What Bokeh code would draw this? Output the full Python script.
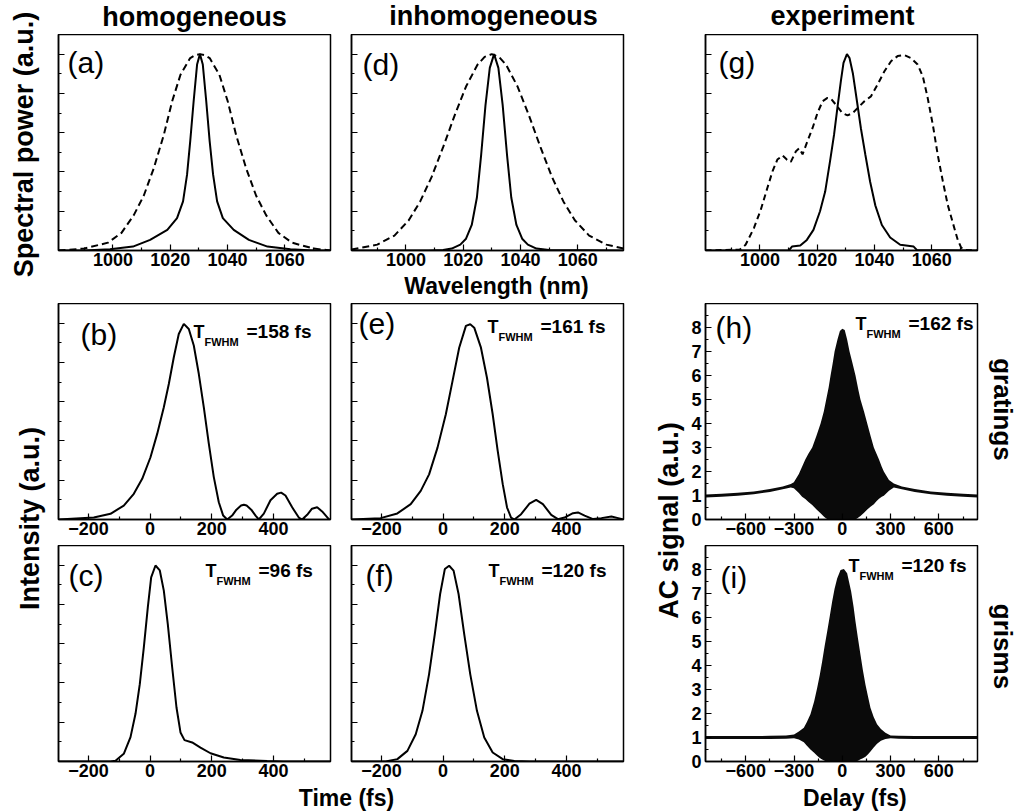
import math
from bokeh.plotting import figure
from bokeh.models import Range1d, FixedTicker, Label, CustomJSTickFormatter
from bokeh.layouts import row, column
from bokeh.embed import file_html
from bokeh.resources import INLINE

# ---------------- data ----------------
# (a) homogeneous spectra
wl_a_solid = [981, 990, 999, 1007, 1013, 1019, 1022.4, 1024.5, 1025.9, 1027.0, 1028.2, 1029.4, 1030.4,
              1031.4, 1032.6, 1033.8, 1035.0, 1036.4, 1038.4, 1042.2, 1047.5, 1054, 1062, 1070, 1076]
pw_a_solid = [0.0, 0.0, 0.006, 0.02, 0.054, 0.105, 0.165, 0.25, 0.386, 0.556, 0.76, 0.947, 1.0,
              0.947, 0.76, 0.556, 0.386, 0.25, 0.165, 0.105, 0.054, 0.02, 0.006, 0.0, 0.0]
wl_a_dash = [981, 990, 998.3, 1003, 1007.3, 1010.8, 1014.3, 1017.8, 1020.7, 1023.6, 1027.0, 1028.7,
             1030.4, 1032.1, 1033.8, 1037.2, 1040.1, 1043.0, 1046.5, 1050.0, 1053.5, 1057.8, 1062.5,
             1070, 1076]
pw_a_dash = [0.0, 0.01, 0.04, 0.09, 0.18, 0.28, 0.42, 0.59, 0.76, 0.895, 0.98, 0.995,
             1.0, 0.995, 0.98, 0.895, 0.76, 0.59, 0.42, 0.28, 0.18, 0.09, 0.04,
             0.01, 0.0]

# (d) inhomogeneous spectra
wl_d_solid = [981, 1008, 1013, 1016, 1019, 1021, 1023, 1024.8, 1026.3, 1027.8, 1029.3, 1030.8,
              1032.3, 1033.8, 1035.3, 1036.8, 1038.6, 1040.6, 1042.6, 1045.6, 1050, 1076]
pw_d_solid = [0.0, 0.0, 0.003, 0.01, 0.03, 0.06, 0.13, 0.27, 0.49, 0.74, 0.93, 1.0,
              0.93, 0.74, 0.49, 0.27, 0.13, 0.06, 0.03, 0.01, 0.002, 0.0]
wl_d_dash = [981, 990, 996, 1001, 1005, 1009, 1013, 1017, 1021, 1025, 1027.5, 1030,
             1032.5, 1035, 1039, 1043, 1047, 1051, 1055, 1059, 1064, 1070, 1076]
pw_d_dash = [0.005, 0.03, 0.076, 0.154, 0.25, 0.375, 0.526, 0.687, 0.835, 0.946, 0.986, 1.0,
             0.986, 0.946, 0.835, 0.687, 0.526, 0.375, 0.25, 0.154, 0.076, 0.03, 0.01]

# (g) experimental spectra
wl_g_solid = [981, 1010.1, 1011.2, 1014.1, 1016.4, 1018.7, 1021.0, 1022.8, 1024.5, 1025.9,
              1027.1, 1028.3, 1029.2, 1030.4, 1031.3, 1032.5, 1033.9, 1035.3, 1036.8, 1038.5,
              1040.3, 1042.6, 1045.5, 1049.0, 1053.7, 1054.8, 1076]
pw_g_solid = [0.0, 0.0, 0.02, 0.025, 0.054, 0.105, 0.2, 0.30, 0.455, 0.59,
              0.73, 0.865, 0.955, 1.0, 0.98, 0.9, 0.76, 0.62, 0.49, 0.35,
              0.23, 0.13, 0.066, 0.029, 0.02, 0.003, 0.0]
wl_g_dash = [981, 993, 995.0, 997.9, 1000.3, 1002.6, 1004.4, 1006.1, 1007.9, 1009.4,
             1010.8, 1012.6, 1013.7, 1014.9, 1016.6, 1018.4, 1020.1, 1021.9, 1023.6, 1025.0,
             1026.5, 1028.8, 1030.6, 1032.4, 1034.1, 1036.5, 1038.8, 1041.1, 1043.5, 1045.8,
             1048.1, 1050.5, 1052.8, 1055.1, 1056.9, 1058.6, 1060.4, 1062.1, 1063.9, 1065.6,
             1067.4, 1069.1, 1070.3, 1071.4, 1076]
pw_g_dash = [0.0, 0.005, 0.029, 0.114, 0.207, 0.318, 0.403, 0.463, 0.484, 0.463,
             0.451, 0.506, 0.52, 0.49, 0.556, 0.624, 0.70, 0.76, 0.777, 0.77,
             0.743, 0.70, 0.688, 0.70, 0.725, 0.76, 0.785, 0.845, 0.913, 0.964,
             0.99, 0.995, 0.98, 0.947, 0.887, 0.777, 0.64, 0.488, 0.352, 0.233,
             0.14, 0.054, 0.015, 0.003, 0.0]

# (b) homogeneous, gratings
t_b = [-297, -182.5, -128.4, -85.3, -52.8, -25.6, 1.3, 23, 44.5, 60.7,
       76.9, 93, 109.3, 125.5, 141.7, 157.9, 174.1, 190.4, 206.6, 222.8,
       237, 250, 266, 280, 295, 304, 313, 328, 342, 352.6,
       368.8, 390.4, 412, 425, 439, 460.7, 482.2, 493, 509.4, 525,
       541.7, 557.9, 579.5, 585]
i_b = [0.0, 0.01, 0.029, 0.071, 0.131, 0.207, 0.317, 0.436, 0.572, 0.69,
       0.826, 0.945, 0.996, 0.97, 0.886, 0.742, 0.572, 0.386, 0.216, 0.088,
       0.02, 0.0, 0.02, 0.05, 0.071, 0.075, 0.071, 0.05, 0.02, 0.0,
       0.03, 0.098, 0.131, 0.137, 0.122, 0.062, 0.01, 0.0, 0.024, 0.055,
       0.062, 0.041, 0.002, 0.0]
# (c) homogeneous, grisms
t_c = [-297, -128.4, -112.2, -85.3, -63.5, -47.3, -33.4, -20.4, -7.4, 3.5,
       17.5, 31.5, 44.5, 57.4, 71.6, 85.6, 98.6, 111.6, 136.5, 163.4,
       195.9, 239, 293, 379.7, 433, 585]
i_c = [0.0, 0.0, 0.004, 0.039, 0.124, 0.243, 0.394, 0.58, 0.785, 0.938,
       0.998, 0.973, 0.87, 0.70, 0.48, 0.275, 0.148, 0.109, 0.097, 0.071,
       0.042, 0.02, 0.008, 0.002, 0.0, 0.0]
# (e) inhomogeneous, gratings
t_e = [-297, -202.6, -148.3, -105, -72.5, -45.4, -18.1, 8.9, 30.7, 52.2,
       74, 88, 101, 122.8, 142.3, 160.8, 177.1, 193.4, 207.4, 220.4,
       231.2, 253, 280, 301.8, 323.6, 350.6, 372.4, 393.8, 421.2, 437.4,
       458.9, 486.3, 513.3, 545.8, 567.6, 585]
i_e = [0.0, 0.007, 0.031, 0.078, 0.146, 0.23, 0.366, 0.536, 0.706, 0.875,
       0.986, 0.994, 0.977, 0.875, 0.722, 0.536, 0.349, 0.18, 0.061, 0.01,
       0.0, 0.027, 0.081, 0.1, 0.078, 0.024, 0.002, 0.01, 0.032, 0.036,
       0.02, 0.002, 0.007, 0.015, 0.007, 0.0]
# (f) inhomogeneous, grisms
t_f = [-297, -186.4, -148.3, -115.7, -88.7, -66.9, -45.4, -26.9, -9.6, 5.6,
       19.6, 34, 50.2, 68.5, 88, 109.8, 133.5, 160.8, 193.4, 231.2, 280, 585]
i_f = [0.0, 0.0, 0.012, 0.054, 0.139, 0.258, 0.445, 0.649, 0.853, 0.98,
       0.997, 0.972, 0.853, 0.649, 0.445, 0.258, 0.122, 0.046, 0.012, 0.002, 0.0, 0.0]

# (h) measured autocorrelation, gratings: fringe envelopes
delay_h = [-850, -750, -650, -550, -450, -370, -320, -301, -270, -250,
           -230, -210, -187, -160, -135, -115, -100, -85, -73, -60,
           -48, -30, -15, 0, 15, 30, 45, 60, 82, 100,
           113, 135, 155, 175, 196, 212, 228, 245, 258, 290,
           320, 370, 450, 550, 650, 750, 840]
upper_h = [1.04, 1.07, 1.11, 1.17, 1.27, 1.38, 1.48, 1.55, 1.9, 2.2,
           2.5, 2.75, 3.0, 3.5, 4.0, 4.5, 5.0, 5.5, 6.0, 6.5,
           7.0, 7.5, 7.85, 7.95, 7.9, 7.5, 7.0, 6.6, 6.0, 5.4,
           5.0, 4.5, 4.0, 3.5, 3.0, 2.75, 2.5, 2.2, 2.0, 1.65,
           1.5, 1.38, 1.27, 1.17, 1.11, 1.07, 1.04]
lower_h = [0.92, 0.95, 0.99, 1.05, 1.15, 1.26, 1.33, 1.3, 1.1, 0.95,
           0.85, 0.73, 0.6, 0.42, 0.26, 0.12, 0.04, 0.0, 0.0, 0.0,
           0.0, 0.0, 0.0, 0.0, 0.0, 0.0, 0.0, 0.0, 0.0, 0.08,
           0.15, 0.28, 0.42, 0.53, 0.64, 0.76, 0.86, 0.95, 0.99, 1.2,
           1.33, 1.26, 1.15, 1.05, 0.99, 0.95, 0.92]
# (i) measured autocorrelation, grisms: fringe envelopes
delay_i = [-850, -750, -650, -550, -450, -350, -300, -270, -239, -220,
           -198, -175, -156, -140, -125, -110, -94, -78, -63, -48,
           -32, -11, 10, 30, 55, 70, 82, 97, 113, 128,
           144, 160, 175, 195, 216, 240, 268, 300, 350, 450,
           550, 650, 750, 840]
upper_i = [1.06, 1.06, 1.06, 1.06, 1.07, 1.08, 1.12, 1.25, 1.41, 1.65,
           1.97, 2.5, 3.07, 3.6, 4.18, 4.8, 5.42, 6.05, 6.67, 7.2,
           7.63, 7.98, 8.02, 7.84, 7.08, 6.45, 5.83, 5.15, 4.45, 3.8,
           3.2, 2.7, 2.24, 1.85, 1.55, 1.35, 1.2, 1.08, 1.07, 1.06,
           1.06, 1.06, 1.06, 1.06]
lower_i = [0.94, 0.94, 0.94, 0.94, 0.94, 0.95, 0.97, 0.92, 0.8, 0.66,
           0.5, 0.36, 0.24, 0.15, 0.08, 0.03, 0.0, 0.0, 0.0, 0.0,
           0.0, 0.0, 0.0, 0.0, 0.0, 0.0, 0.0, 0.03, 0.09, 0.14,
           0.2, 0.3, 0.42, 0.58, 0.74, 0.86, 0.94, 0.97, 0.95, 0.94,
           0.94, 0.94, 0.94, 0.94]

# ticks
wl_ticks = [1000, 1020, 1040, 1060]
wl_minor = [990, 1010, 1030, 1050, 1070]
t_ticks = [-200, 0, 200, 400]
t_minor = [-100, 100, 300, 500]
d_ticks = [-600, -300, 0, 300, 600]
d_minor = [-750, -450, -150, 150, 450, 750]
n_ticks = [0.2, 0.4, 0.6, 0.8, 1.0]
n_minor = [0.1, 0.3, 0.5, 0.7, 0.9]
ac_ticks = [0, 1, 2, 3, 4, 5, 6, 7, 8]
ac_minor = [0.5, 1.5, 2.5, 3.5, 4.5, 5.5, 6.5, 7.5, 8.5]

fwhm_vals = {"b": "=158 fs", "c": "=96 fs", "e": "=161 fs", "f": "=120 fs", "h": "=162 fs", "i": "=120 fs"}

# ---------------- layout geometry ----------------
FONT = "Liberation Sans"
FW, FH = 272, 216
WL_R = (981, 1076)
T_R = (-297, 585)
D_R = (-850, 840)
N_R = (0, 1.1)
AC_R = (0, 9)
SHIFT = 0.35  # label anchor correction (fraction of font size) so that y is the baseline


def make_panel(fl, ft, bl, bt, br, bb, xr, yr, xt, xm, yt, ym, ylab):
    p = figure(frame_width=FW, frame_height=FH, output_backend="svg", toolbar_location=None,
               x_range=Range1d(*xr), y_range=Range1d(*yr),
               min_border_left=bl, min_border_right=br,
               min_border_top=bt, min_border_bottom=bb,
               background_fill_color="white", border_fill_color="white",
               outline_line_color="black", outline_line_width=1.5)
    p.xgrid.visible = False
    p.ygrid.visible = False
    p.xaxis.ticker = FixedTicker(ticks=xt, minor_ticks=xm)
    p.yaxis.ticker = FixedTicker(ticks=yt, minor_ticks=ym)
    for ax in list(p.xaxis) + list(p.yaxis):
        ax.axis_line_width = 1.5
        ax.axis_line_color = "black"
        ax.major_tick_in = 6
        ax.major_tick_out = 0
        ax.minor_tick_in = 3
        ax.minor_tick_out = 0
        ax.major_tick_line_width = 1.2
        ax.minor_tick_line_width = 1.2
        ax.major_tick_line_color = "black"
        ax.minor_tick_line_color = "black"
        ax.major_label_text_font = FONT
        ax.major_label_text_font_style = "bold"
        ax.major_label_text_font_size = "18px"
        ax.major_label_text_color = "black"
    p.xaxis.major_label_standoff = 2
    p.yaxis.major_label_standoff = 4
    if not ylab:
        p.yaxis.formatter = CustomJSTickFormatter(code="return ''")
    p._geom = (fl, ft, xr, yr)
    return p


def lab(p, ax, ay, s, size, bold=True, align="left"):
    fl, ft, xr, yr = p._geom
    ay = ay - SHIFT * size
    dx = xr[0] + (ax - fl) / FW * (xr[1] - xr[0])
    dy = yr[0] + (ft + FH - ay) / FH * (yr[1] - yr[0])
    p.add_layout(Label(x=dx, y=dy, text=s, text_font=FONT, text_font_size=f"{size}px",
                       text_font_style="bold" if bold else "normal",
                       text_align=align, text_baseline="alphabetic", text_color="black"))


def strip(x0, x1, y0, y1):
    s = figure(width=x1 - x0, height=y1 - y0, output_backend="svg", toolbar_location=None,
               x_range=Range1d(x0, x1), y_range=Range1d(y1, y0),
               x_axis_location=None, y_axis_location=None,
               min_border_left=0, min_border_right=0,
               min_border_top=0, min_border_bottom=0,
               outline_line_color=None,
               background_fill_color="white", border_fill_color="white")
    s.grid.visible = False
    return s


def slab(s, x, y, t, size, rot=0):
    # rot: 0 horizontal, +1 reads bottom-to-top, -1 reads top-to-bottom; (x, y) on the baseline
    if rot == 0:
        y = y - SHIFT * size
        angle = 0.0
    elif rot > 0:
        x = x - SHIFT * size
        angle = math.pi / 2
    else:
        x = x + SHIFT * size
        angle = -math.pi / 2
    s.add_layout(Label(x=x, y=y, text=t, text_font=FONT, text_font_size=f"{size}px",
                       text_font_style="bold", text_align="center", text_baseline="alphabetic",
                       text_color="black", angle=angle))


# ---- block A: columns 1 and 2 (x 46-650)
top_a = strip(46, 650, 0, 34)
slab(top_a, 194, 26, "homogeneous", 27)
slab(top_a, 493, 25, "inhomogeneous", 27)

pa = make_panel(58, 34, 12, 0, 10, 23, WL_R, N_R, wl_ticks, wl_minor, n_ticks, n_minor, False)
pa.line(wl_a_dash, pw_a_dash, line_color="black", line_width=2, line_dash="7 4")
pa.line(wl_a_solid, pw_a_solid, line_color="black", line_width=2)
pd = make_panel(351, 34, 11, 0, 27, 23, WL_R, N_R, wl_ticks, wl_minor, n_ticks, n_minor, False)
pd.line(wl_d_dash, pw_d_dash, line_color="black", line_width=2, line_dash="7 4")
pd.line(wl_d_solid, pw_d_solid, line_color="black", line_width=2)

wl_strip = strip(46, 650, 273, 303)
slab(wl_strip, 496, 294, "Wavelength (nm)", 23)

pb = make_panel(58, 303, 12, 0, 10, 26, T_R, N_R, t_ticks, t_minor, n_ticks, n_minor, False)
pb.line(t_b, i_b, line_color="black", line_width=2)
pe = make_panel(351, 303, 11, 0, 27, 26, T_R, N_R, t_ticks, t_minor, n_ticks, n_minor, False)
pe.line(t_e, i_e, line_color="black", line_width=2)

pc = make_panel(58, 545, 12, 0, 10, 23, T_R, N_R, t_ticks, t_minor, n_ticks, n_minor, False)
pc.line(t_c, i_c, line_color="black", line_width=2)
pf = make_panel(351, 545, 11, 0, 27, 23, T_R, N_R, t_ticks, t_minor, n_ticks, n_minor, False)
pf.line(t_f, i_f, line_color="black", line_width=2)

time_strip = strip(46, 650, 784, 811)
slab(time_strip, 346, 805.5, "Time (fs)", 23)

# ---- block C: column 3 (x 685-1018)
top_c = strip(685, 1018, 0, 34)
slab(top_c, 842, 25, "experiment", 27)

pg = make_panel(705, 34, 20, 0, 3, 53, WL_R, N_R, wl_ticks, wl_minor, n_ticks, n_minor, False)
pg.line(wl_g_dash, pw_g_dash, line_color="black", line_width=2, line_dash="6 4")
pg.line(wl_g_solid, pw_g_solid, line_color="black", line_width=2)
ph = make_panel(705, 303, 20, 0, 3, 26, D_R, AC_R, d_ticks, d_minor, ac_ticks, ac_minor, True)
ph.varea(x=delay_h, y1=lower_h, y2=upper_h, fill_color="#0a0a0a")
pi_ = make_panel(705, 545, 20, 0, 3, 23, D_R, AC_R, d_ticks, d_minor, ac_ticks, ac_minor, True)
pi_.varea(x=delay_i, y1=lower_i, y2=upper_i, fill_color="#0a0a0a")

delay_strip = strip(685, 980, 784, 811)
slab(delay_strip, 847, 805.5, "Delay (fs)", 23)

right_strip = strip(980, 1018, 34, 811)
slab(right_strip, 993, 409, "gratings", 26, rot=-1)
slab(right_strip, 993, 646, "grisms", 26, rot=-1)

# ---- side strips
left_strip = strip(0, 46, 0, 811)
slab(left_strip, 33, 144, "Spectral power (a.u.)", 27, rot=1)
slab(left_strip, 39, 518, "Intensity (a.u.)", 27, rot=1)

mid_strip = strip(650, 685, 0, 811)
slab(mid_strip, 678, 520, "AC signal (a.u.)", 27, rot=1)

# ---- in-frame texts
letters = [(pa, "(a)", 67, 72), (pd, "(d)", 362, 74), (pg, "(g)", 718, 72),
           (pb, "(b)", 80, 344), (pe, "(e)", 358, 333), (ph, "(h)", 715, 337),
           (pc, "(c)", 68, 585), (pf, "(f)", 365, 585), (pi_, "(i)", 720, 587)]
for p, s, x, y in letters:
    lab(p, x, y, s, 30, bold=False)

fwhm_pos = [(pb, "b", 193, 338), (pe, "e", 487, 333), (ph, "h", 855, 330),
            (pc, "c", 205, 577), (pf, "f", 488, 577), (pi_, "i", 848, 572)]
for p, k, x, y in fwhm_pos:
    lab(p, x, y, "T", 18)
    lab(p, x + 11, y + 7, "FWHM", 11)
    lab(p, x + 53, y, fwhm_vals[k], 19)

block_a = column(top_a, row(pa, pd), wl_strip, row(pb, pe), row(pc, pf), time_strip)
block_c = column(top_c, row(column(pg, ph, pi_, delay_strip), right_strip))
layout = row(left_strip, block_a, mid_strip, block_c)

open("out.html", "w").write(file_html(layout, INLINE))
